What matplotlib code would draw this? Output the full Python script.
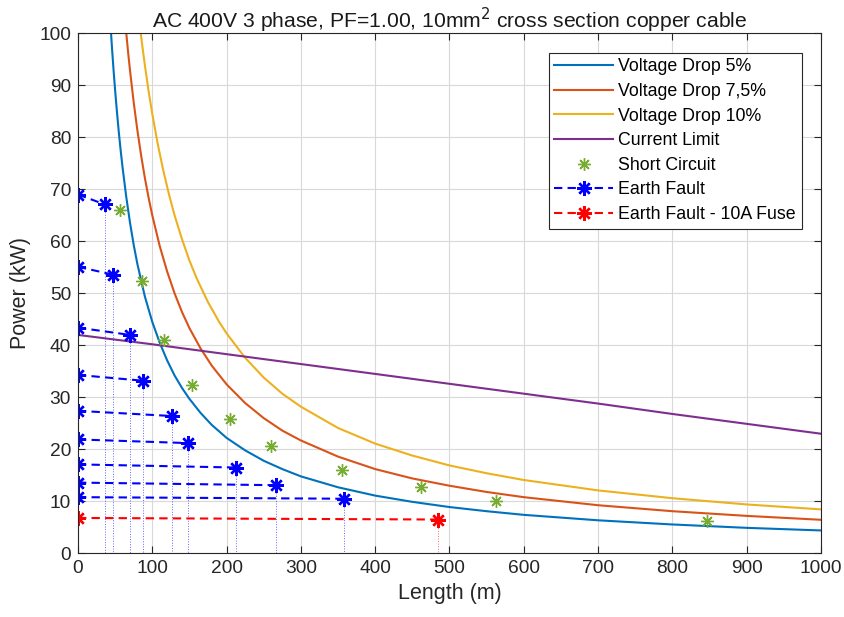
'''
Voltage drop / current limit / fault loop chart for a 10mm2 copper cable
'''

import numpy as np
import matplotlib.pyplot as plt

plt.rcParams['font.family'] = ['Liberation Sans', 'DejaVu Sans']

# voltage drop curves (length m, power kW)
VD5_LEN = [44.5, 46, 48, 50, 52.5, 55, 57.5, 60, 65, 70, 75, 80, 90, 100, 110, 120, 130, 140, 150,
           165, 180, 200, 225, 250, 275, 300, 350, 400, 450, 500, 550, 600, 700, 800, 900, 1000]
VD5_P = [100, 96.7, 92.7, 89.0, 84.8, 80.9, 77.4, 74.2, 68.5, 63.6, 59.3, 55.6, 49.4, 44.5, 40.5, 37.1,
         34.2, 31.8, 29.7, 27.0, 24.7, 22.2, 19.8, 17.8, 16.2, 14.8, 12.7, 11.1, 9.9, 8.9, 8.1, 7.4,
         6.35, 5.55, 4.9, 4.4]

VD75_LEN = [65, 67.5, 70, 75, 80, 85, 90, 95, 100, 110, 120, 130, 140, 150, 165, 180, 200, 225, 250,
            275, 300, 350, 400, 450, 500, 550, 600, 700, 800, 900, 1000]
VD75_P = [100, 96.3, 92.9, 86.7, 81.3, 76.5, 72.2, 68.4, 65.0, 59.1, 54.2, 50.0, 46.4, 43.3, 39.4,
          36.1, 32.5, 28.9, 26.0, 23.6, 21.7, 18.6, 16.2, 14.4, 13.0, 11.8, 10.8, 9.25, 8.1, 7.2, 6.45]

VD10_LEN = [84.5, 87, 90, 95, 100, 107.5, 115, 122.5, 130, 140, 150, 160, 175, 190, 200, 225, 250,
            275, 300, 350, 400, 450, 500, 550, 600, 700, 800, 900, 1000]
VD10_P = [100, 97.1, 93.9, 88.9, 84.5, 78.6, 73.5, 69.0, 65.0, 60.4, 56.3, 52.8, 48.3, 44.5, 42.3,
          37.6, 33.8, 30.7, 28.2, 24.1, 21.1, 18.8, 16.9, 15.4, 14.1, 12.1, 10.6, 9.4, 8.45]

ILIM_LEN = [0, 100, 200, 300, 400, 500, 600, 700, 800, 900, 1000]
ILIM_P = [42.0, 40.2, 38.3, 36.4, 34.5, 32.6, 30.7, 28.8, 26.8, 24.9, 23.0]

# short circuit points
SC_LEN = [57, 86, 116, 153, 204, 260, 356, 462, 562, 847]
SC_P = [66.0, 52.3, 41.0, 32.4, 25.8, 20.6, 16.0, 12.7, 10.0, 6.3]

# earth fault: start power at 0 m, end length, end power
EF_START = [69.0, 55.1, 43.4, 34.3, 27.4, 21.9, 17.1, 13.6, 10.8]
EF_LEN = [36, 47, 70, 87, 127, 148, 213, 266, 358]
EF_END = [67.1, 53.6, 42.0, 33.2, 26.4, 21.2, 16.5, 13.1, 10.5]

FUSE_START = 6.8
FUSE_LEN = 485
FUSE_END = 6.5

C_BLUE = '#0072BD'
C_ORANGE = '#D95319'
C_YELLOW = '#EDB120'
C_PURPLE = '#7E2F8E'
C_GREEN = '#77AC30'

ASTER = (8, 2, 0)
DASH = (0, (4, 2.5))

fig = plt.figure(figsize=(8.44, 6.17), dpi=100)
ax = fig.add_axes([0.0924, 0.1032, 0.8803, 0.8428])

ax.plot(VD5_LEN, VD5_P, color=C_BLUE, lw=1.5, label='Voltage Drop 5%')
ax.plot(VD75_LEN, VD75_P, color=C_ORANGE, lw=1.5, label='Voltage Drop 7,5%')
ax.plot(VD10_LEN, VD10_P, color=C_YELLOW, lw=1.5, label='Voltage Drop 10%')
ax.plot(ILIM_LEN, ILIM_P, color=C_PURPLE, lw=1.5, label='Current Limit')
ax.plot(SC_LEN, SC_P, ls='none', marker=ASTER, ms=9, mec=C_GREEN, mew=1.0,
        label='Short Circuit')

for i in range(len(EF_START)):
    ax.plot([0, EF_LEN[i]], [EF_START[i], EF_END[i]], color='b', ls=DASH, lw=1.5,
            marker=ASTER, ms=10.5, mec='b', mew=1.7,
            label='Earth Fault' if i == 0 else None)
    ax.plot([EF_LEN[i], EF_LEN[i]], [EF_END[i], 0], color='b', ls=':', lw=0.7, alpha=0.6)

ax.plot([0, FUSE_LEN], [FUSE_START, FUSE_END], color='r', ls=DASH, lw=1.5,
        marker=ASTER, ms=10.5, mec='r', mew=1.7, label='Earth Fault - 10A Fuse')
ax.plot([FUSE_LEN, FUSE_LEN], [FUSE_END, 0], color='r', ls=':', lw=0.7, alpha=0.6)

ax.set_xlim(0, 1000)
ax.set_ylim(0, 100)
ax.set_xticks(np.arange(0, 1001, 100))
ax.set_yticks(np.arange(0, 101, 10))
ax.grid(True, color='#d9d9d9', lw=0.8)
ax.set_axisbelow(True)
ax.tick_params(direction='in', top=True, right=True, labelsize=13.8, colors='#262626',
               length=5, width=0.8, pad=5)
for sp in ax.spines.values():
    sp.set_color('#262626')
    sp.set_linewidth(0.8)

ax.set_xlabel('Length (m)', fontsize=15.5, color='#262626', labelpad=4)
ax.set_ylabel('Power (kW)', fontsize=15.5, color='#262626', labelpad=6)
ax.set_title('AC 400V 3 phase, PF=1.00, 10mm$^2$ cross section copper cable',
             fontsize=15.2, color='#1a1a1a', pad=4)

leg = ax.legend(loc='upper right', bbox_to_anchor=(0.974, 0.963), borderaxespad=0,
                fontsize=12.8, handlelength=3.3, numpoints=1, fancybox=False,
                framealpha=1, edgecolor='#262626', borderpad=0.32, labelspacing=0.43,
                handletextpad=0.3)
leg.get_frame().set_linewidth(0.8)

fig.savefig('out.png', dpi=100)
